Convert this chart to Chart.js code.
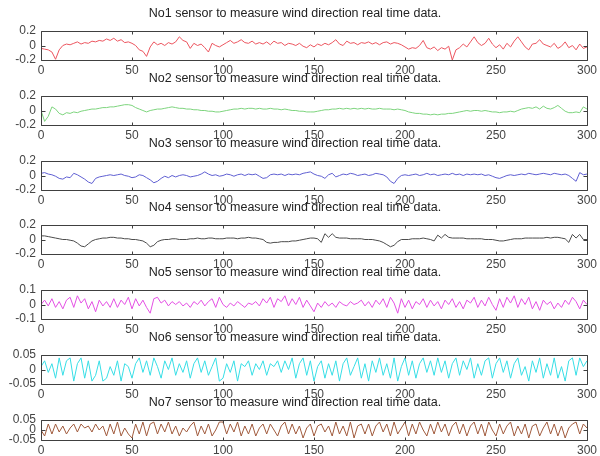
<!DOCTYPE html>
<html>
<head>
<meta charset="utf-8">
<script src="https://cdn.jsdelivr.net/npm/chart.js@4/dist/chart.umd.min.js"></script>
<style>
html, body { margin: 0; padding: 0; background: #fff; }
#wrap { position: relative; width: 600px; height: 456px; overflow: hidden; }
#wrap canvas { position: absolute; left: 0; }
</style>
</head>
<body>
<div id="wrap"></div>
<script>
// sample positions (every 2 samples)
var xs = [0,2,4,6,8,10,12,14,16,18,20,22,24,26,28,30,32,34,36,38,40,42,44,46,48,50,52,54,56,58,
60,62,64,66,68,70,72,74,76,78,80,82,84,86,88,90,92,94,96,98,100,102,104,106,108,110,112,114,116,118,
120,122,124,126,128,130,132,134,136,138,140,142,144,146,148,150,152,154,156,158,160,162,164,166,168,170,172,174,176,178,
180,182,184,186,188,190,192,194,196,198,200,202,204,206,208,210,212,214,216,218,220,222,224,226,228,230,232,234,236,238,
240,242,244,246,248,250,252,254,256,258,260,262,264,266,268,270,272,274,276,278,280,282,284,286,288,290,292,294,296,298,300];

var xTicks = [0, 50, 100, 150, 200, 250, 300];

var titles = [
  "No1 sensor to measure wind direction real time data.",
  "No2 sensor to measure wind direction real time data.",
  "No3 sensor to measure wind direction real time data.",
  "No4 sensor to measure wind direction real time data.",
  "No5 sensor to measure wind direction real time data.",
  "No6 sensor to measure wind direction real time data.",
  "No7 sensor to measure wind direction real time data."
];

var yTicks = [
  [-0.2, 0, 0.2], [-0.2, 0, 0.2], [-0.2, 0, 0.2], [-0.2, 0, 0.2],
  [-0.1, 0, 0.1], [-0.05, 0, 0.05], [-0.05, 0, 0.05]
];

var sensor1 = [
-0.04,-0.05,-0.06,-0.09,-0.19,-0.06,0.00,0.02,0.01,0.03,
0.05,0.02,0.04,0.03,0.06,0.05,0.07,0.06,0.09,0.07,
0.10,0.06,0.08,0.04,0.05,0.03,0.00,-0.06,-0.08,-0.15,
-0.02,0.05,0.01,0.03,0.00,0.04,0.02,0.05,0.12,0.07,
0.05,-0.04,0.03,0.00,0.02,-0.03,-0.09,0.03,0.00,-0.02,
0.01,0.04,0.07,0.03,0.05,0.08,0.04,0.03,0.06,0.02,
0.04,0.02,0.05,0.01,0.06,0.03,0.04,0.00,0.03,0.02,
0.00,0.03,-0.01,-0.03,0.01,-0.02,0.02,0.00,0.03,0.01,
0.04,0.08,0.02,0.00,0.06,0.03,0.04,0.01,0.04,0.03,
0.05,0.02,0.04,0.01,0.04,0.05,0.02,0.04,0.03,0.01,
-0.02,-0.05,-0.03,-0.04,0.00,0.07,-0.03,-0.05,-0.02,-0.07,
-0.03,-0.05,-0.01,-0.20,-0.06,-0.03,0.02,-0.02,0.05,0.12,
0.04,0.00,0.03,0.10,0.02,-0.03,0.01,-0.05,0.03,-0.02,
0.06,0.12,0.05,-0.02,-0.06,0.02,0.03,0.08,0.02,0.00,
-0.02,0.03,-0.04,-0.01,0.05,-0.03,0.00,-0.06,0.02,-0.04,
-0.02];

var sensor2 = [
0.00,-0.15,-0.08,0.05,0.02,-0.04,-0.06,-0.03,-0.04,-0.02,
-0.03,-0.01,0.00,0.01,0.02,0.02,0.03,0.04,0.04,0.05,
0.05,0.06,0.07,0.08,0.08,0.07,0.04,0.02,0.00,-0.02,
0.00,0.01,0.02,0.02,0.03,0.04,0.05,0.04,0.03,0.03,
0.02,0.02,0.01,0.01,0.00,0.00,-0.01,-0.01,-0.02,-0.02,
-0.01,0.00,0.01,0.02,0.02,0.03,0.02,0.03,0.03,0.02,
0.03,0.02,0.02,0.03,0.02,0.02,0.01,0.02,0.01,0.00,
0.00,-0.01,-0.01,-0.02,-0.02,-0.02,-0.01,0.00,0.01,0.01,
0.02,0.02,0.03,0.02,0.03,0.02,0.03,0.02,0.03,0.02,
0.03,0.02,0.02,0.03,0.02,0.02,0.02,0.01,0.02,0.01,
0.00,-0.02,-0.03,-0.04,-0.04,-0.05,-0.05,-0.06,-0.05,-0.06,
-0.05,-0.05,-0.04,-0.04,-0.03,-0.02,-0.01,0.00,-0.01,0.00,
0.00,-0.01,0.00,-0.01,-0.02,-0.02,-0.03,-0.02,-0.02,-0.01,
-0.02,0.00,0.02,0.03,0.04,0.03,0.05,0.02,0.06,0.03,
0.02,0.04,0.07,0.03,-0.01,-0.03,-0.03,-0.02,-0.03,0.05,
0.02];

var sensor3 = [
0.03,0.04,0.02,0.01,-0.01,-0.04,-0.05,-0.02,-0.03,0.03,
0.01,-0.02,-0.05,-0.09,-0.11,-0.04,-0.02,-0.01,0.00,0.01,
0.00,0.01,0.02,0.00,-0.01,-0.03,-0.02,0.01,0.00,-0.03,
-0.06,-0.10,-0.08,-0.04,-0.01,-0.03,0.00,-0.02,0.00,0.01,
0.00,-0.02,-0.01,0.00,0.02,0.05,0.02,0.00,0.01,-0.01,
0.00,0.02,0.01,-0.01,0.01,0.02,0.00,0.02,0.01,0.02,
-0.01,-0.04,-0.03,0.01,0.02,0.01,0.02,0.00,0.02,0.01,
0.02,0.01,0.03,0.04,0.05,0.02,0.00,-0.01,-0.04,0.01,
0.03,-0.02,0.00,0.02,0.01,0.03,0.02,0.00,0.01,0.02,
0.00,0.01,0.03,0.02,0.01,-0.02,-0.08,-0.11,-0.04,0.00,
0.01,0.00,0.01,0.02,0.00,0.01,0.03,0.01,0.02,0.00,
0.01,0.02,0.01,0.03,0.01,0.02,0.00,0.02,0.01,0.02,
0.01,0.02,0.00,0.01,-0.01,-0.03,-0.04,-0.02,0.00,0.01,
0.00,0.01,0.02,0.01,0.03,0.02,0.01,0.02,0.03,0.02,
0.01,0.03,0.02,0.01,0.02,0.00,-0.04,-0.08,0.04,0.01,
0.02];

var sensor4 = [
0.05,0.05,0.04,0.03,0.02,0.01,0.00,0.00,-0.01,-0.02,
-0.05,-0.09,-0.10,-0.06,-0.02,0.00,0.01,0.02,0.02,0.03,
0.03,0.02,0.02,0.01,0.01,0.00,0.00,-0.01,-0.02,-0.05,
-0.10,-0.08,-0.03,-0.01,0.00,0.00,0.01,0.01,0.00,0.00,
0.00,0.01,0.01,0.02,0.01,0.01,0.02,0.02,0.01,0.01,
0.01,0.02,0.02,0.02,0.01,0.02,0.02,0.03,0.02,0.02,
0.01,0.00,-0.04,-0.05,-0.04,-0.04,-0.03,-0.03,-0.03,-0.02,
-0.02,-0.01,0.00,0.01,0.02,0.02,0.01,-0.04,0.08,0.03,
0.08,0.03,0.02,0.02,0.02,0.01,0.01,0.01,0.01,0.00,
0.00,0.00,-0.01,-0.02,-0.04,-0.07,-0.10,-0.08,-0.03,0.00,
0.00,0.00,0.01,0.01,0.01,0.02,0.01,0.00,-0.02,0.06,
0.02,0.07,0.03,0.02,0.02,0.02,0.02,0.01,0.01,0.01,
0.01,0.01,0.00,0.00,0.00,-0.01,-0.02,-0.02,-0.01,0.00,
0.01,0.01,0.01,0.02,0.02,0.02,0.02,0.02,0.02,0.03,
0.02,0.03,0.03,0.02,0.01,-0.04,0.07,0.02,0.07,0.00,
0.00];

var sensor5 = [
0.00,0.03,-0.01,0.04,-0.02,0.02,-0.03,0.03,0.05,-0.02,
0.06,0.01,0.04,-0.03,0.02,-0.05,0.03,-0.01,0.02,-0.02,
0.04,-0.02,0.03,0.00,0.05,-0.03,0.04,-0.01,0.03,-0.02,
-0.06,0.04,0.05,0.01,0.03,-0.01,0.02,0.00,0.02,-0.01,
0.01,-0.02,0.02,0.00,0.03,-0.01,0.02,0.04,-0.02,0.05,
0.00,-0.02,0.01,-0.01,0.02,0.00,-0.02,0.01,0.00,0.02,
-0.01,0.04,0.01,0.05,-0.02,0.04,0.02,0.06,-0.01,0.04,
0.00,0.05,-0.02,0.03,-0.01,-0.05,0.01,-0.02,0.02,-0.01,
0.01,-0.02,0.02,0.00,-0.01,0.02,0.00,0.01,0.03,-0.01,
0.02,-0.02,0.03,0.00,0.04,-0.02,0.05,0.01,-0.06,0.04,
-0.02,0.03,-0.03,0.02,0.00,0.04,-0.02,0.03,-0.01,0.02,
-0.03,0.03,0.00,0.04,-0.02,0.02,-0.03,0.03,0.01,0.05,
-0.02,0.03,-0.01,0.05,0.00,-0.04,0.04,-0.02,0.05,0.01,
0.06,-0.02,0.04,0.00,0.05,-0.03,0.02,-0.04,0.03,0.00,
0.02,-0.03,0.01,-0.02,0.03,0.00,0.05,0.02,-0.03,0.03,
0.00];

var sensor6 = [
0.01,0.03,-0.01,0.02,-0.03,0.04,-0.02,0.03,0.04,-0.04,
0.02,0.04,-0.03,0.03,-0.04,-0.02,0.03,-0.04,-0.03,0.01,
-0.02,0.03,-0.04,0.02,0.01,-0.03,0.02,0.04,-0.01,0.03,
-0.02,0.04,0.01,-0.03,0.03,0.00,0.04,-0.02,0.02,-0.01,
0.03,-0.03,0.02,0.04,-0.01,0.03,-0.02,0.01,0.04,-0.04,
-0.03,0.02,-0.01,0.03,-0.04,0.02,0.01,0.03,-0.02,0.02,
0.00,0.03,-0.02,0.02,0.01,0.03,-0.01,0.03,0.00,0.04,
-0.03,0.02,0.04,-0.02,0.03,-0.04,0.01,0.03,-0.03,0.02,
-0.02,0.03,-0.04,0.02,0.04,-0.02,0.01,0.04,-0.03,0.02,
-0.04,0.03,-0.01,0.04,-0.02,0.02,-0.03,0.04,-0.04,0.01,
0.04,-0.02,0.03,-0.03,0.02,0.04,-0.01,0.03,-0.02,0.04,
-0.01,0.03,-0.03,0.02,0.04,-0.02,0.03,0.00,0.04,-0.03,
0.02,-0.02,0.03,0.04,-0.03,0.02,0.04,-0.01,0.03,-0.03,
0.02,0.04,-0.02,0.01,-0.04,0.03,-0.01,0.04,-0.03,0.02,
-0.02,0.04,-0.03,0.01,-0.04,0.03,0.04,-0.02,0.04,0.01,
0.03];

var sensor7 = [
0.00,-0.03,0.03,-0.02,0.03,-0.01,0.02,-0.02,0.01,0.03,
-0.01,0.03,0.01,0.02,-0.01,0.03,0.00,0.02,-0.03,0.03,
-0.02,0.04,-0.03,0.01,-0.02,-0.04,0.03,-0.02,0.04,-0.03,
0.03,0.04,-0.02,0.03,-0.01,0.04,-0.02,0.02,-0.03,0.01,
-0.01,0.02,0.04,-0.03,0.02,-0.02,0.03,-0.03,0.00,0.04,
0.04,-0.02,0.03,-0.01,0.04,-0.03,0.02,-0.02,0.03,-0.03,
0.01,0.03,-0.02,0.03,0.00,-0.03,0.02,0.04,-0.02,0.03,
-0.02,0.02,-0.04,0.01,0.03,-0.03,0.02,0.03,-0.01,0.02,
-0.03,0.04,-0.02,0.02,-0.03,0.04,-0.04,0.02,0.03,-0.02,
0.03,-0.03,0.02,0.04,-0.01,0.03,-0.03,0.04,-0.02,0.01,
0.04,-0.03,0.03,-0.02,0.04,0.00,-0.03,0.03,-0.02,0.04,
-0.01,0.03,-0.03,0.02,0.04,-0.02,0.03,-0.03,0.02,0.04,
-0.02,0.03,-0.03,0.04,0.00,-0.03,0.03,-0.02,0.02,0.04,
-0.03,0.02,-0.02,0.03,-0.04,0.02,0.03,-0.03,0.01,0.04,
-0.02,0.03,-0.03,0.02,-0.04,0.01,0.03,0.04,-0.02,0.03,
0.01];

var sensors = [sensor1, sensor2, sensor3, sensor4, sensor5, sensor6, sensor7];
var colors = ['rgb(236,85,95)', 'rgb(125,212,125)', 'rgb(95,95,210)', 'rgb(75,75,75)',
              'rgb(228,80,228)', 'rgb(55,222,230)', 'rgb(160,90,60)'];
// plot box heights (last plot is squashed in the original figure)
var boxHeights = [29, 29, 29, 29, 29, 29, 20];

// matlab style box with inward tick marks
var boxPlugin = {
  id: 'box',
  afterDraw: function(chart) {
    var c = chart.ctx, a = chart.chartArea;
    var sx = chart.scales.x, sy = chart.scales.y;
    c.save();
    c.strokeStyle = '#404040';
    c.lineWidth = 1;
    c.beginPath();
    var l = Math.round(a.left) + 0.5, r = Math.round(a.right) + 0.5;
    var t = Math.round(a.top) + 0.5, b = Math.round(a.bottom) + 0.5;
    c.rect(l, t, r - l, b - t);
    xTicks.forEach(function(v) {
      var p = Math.round(sx.getPixelForValue(v)) + 0.5;
      c.moveTo(p, t); c.lineTo(p, t + 3);
      c.moveTo(p, b); c.lineTo(p, b - 3);
    });
    sy.ticks.forEach(function(tk) {
      var p = Math.round(sy.getPixelForValue(tk.value)) + 0.5;
      c.moveTo(l, p); c.lineTo(l + 4, p);
      c.moveTo(r, p); c.lineTo(r - 4, p);
    });
    c.stroke();
    c.restore();
  }
};

var wrap = document.getElementById('wrap');
sensors.forEach(function(ys, k) {
  var cv = document.createElement('canvas');
  cv.width = 600;
  cv.height = Math.round(31 + boxHeights[k] + 16);
  cv.style.top = Math.round(64.8 * k) + 'px';
  wrap.appendChild(cv);
  var yt = yTicks[k];
  new Chart(cv.getContext('2d'), {
    type: 'line',
    data: {
      datasets: [{
        data: xs.map(function(x, i) { return {x: x, y: ys[i]}; }),
        borderColor: colors[k],
        borderWidth: 1,
        pointRadius: 0,
        tension: 0,
        fill: false
      }]
    },
    options: {
      responsive: false,
      animation: false,
      layout: { padding: { left: 0, right: 10, top: 0, bottom: 0 } },
      plugins: {
        legend: { display: false },
        tooltip: { enabled: false },
        title: {
          display: true,
          text: titles[k],
          color: '#222',
          font: { family: 'Liberation Sans, Arial, sans-serif', size: 12.5, weight: 'normal', lineHeight: 1.2 },
          padding: { top: 6, bottom: 10 }
        }
      },
      scales: {
        x: {
          type: 'linear',
          min: 0, max: 300,
          grid: { display: false, drawTicks: false },
          border: { display: false },
          afterBuildTicks: function(s) { s.ticks = xTicks.map(function(v) { return {value: v}; }); },
          afterFit: function(s) { s.height = 16; },
          ticks: {
            color: '#444', padding: 3, maxRotation: 0, autoSkip: false,
            font: { family: 'Liberation Sans, Arial, sans-serif', size: 12 }
          }
        },
        y: {
          min: yt[0], max: yt[2],
          grid: { display: false, drawTicks: false },
          border: { display: false },
          afterBuildTicks: function(s) { s.ticks = yt.map(function(v) { return {value: v}; }); },
          afterFit: function(s) { s.width = 41; },
          ticks: {
            color: '#444', padding: 5, autoSkip: false,
            font: { family: 'Liberation Sans, Arial, sans-serif', size: 12 },
            callback: function(v) { return String(v); }
          }
        }
      }
    },
    plugins: [boxPlugin]
  });
});
</script>
</body>
</html>
